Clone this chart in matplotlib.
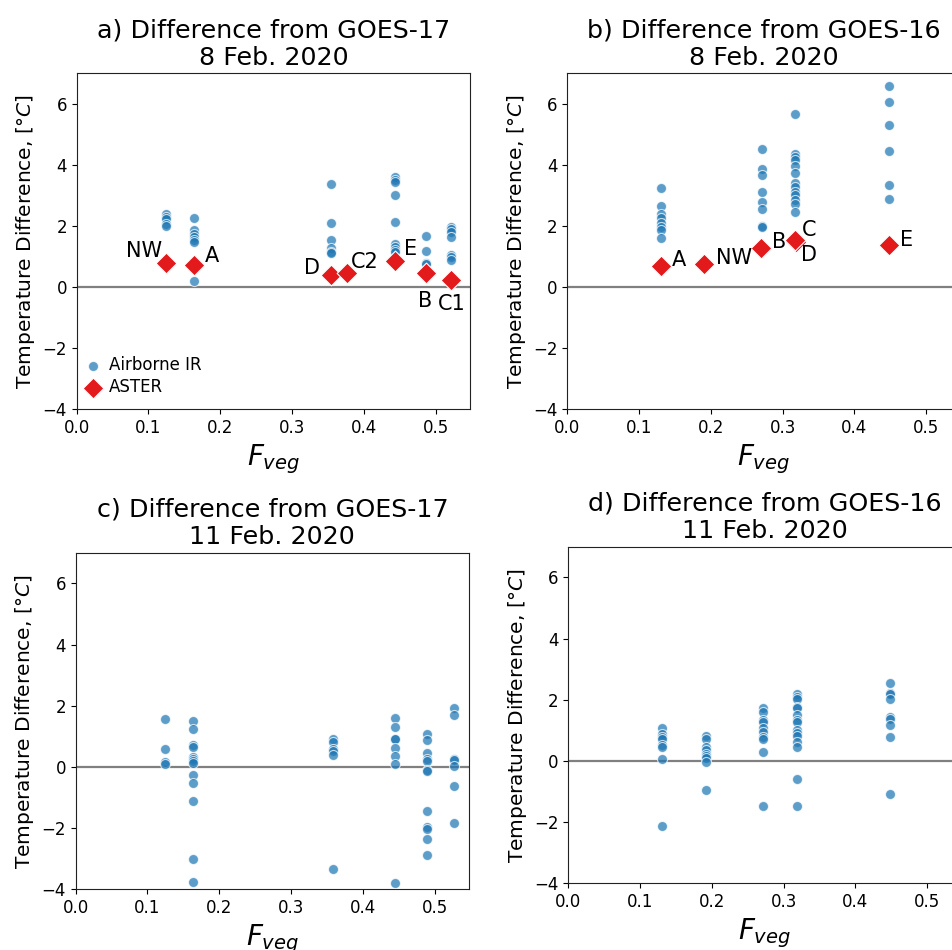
import matplotlib
matplotlib.use("Agg")
import matplotlib.pyplot as plt

# ---------------- data ----------------
# Panel a) GOES-17, 8 Feb 2020
a_ir_fveg = [0.124, 0.164, 0.354, 0.443, 0.486, 0.522]
a_ir_vals = [
    [2.38, 2.30, 2.22, 2.05, 2.00],
    [2.27, 1.85, 1.72, 1.62, 1.55, 1.48, 0.20],
    [3.36, 2.09, 1.53, 1.27, 1.15, 1.12],
    [3.60, 3.52, 3.44, 3.00, 2.14, 1.40, 1.31, 1.22, 1.15],
    [1.68, 1.17, 0.79, 0.74],
    [1.98, 1.91, 1.80, 1.64, 1.06, 0.98, 0.87],
]
a_aster_site = ["NW", "A", "D", "C2", "E", "B", "C1"]
a_aster_fveg = [0.124, 0.164, 0.354, 0.376, 0.443, 0.486, 0.522]
a_aster_vals = [0.79, 0.71, 0.40, 0.46, 0.84, 0.46, 0.22]

# Panel b) GOES-16, 8 Feb 2020
b_ir_fveg = [0.131, 0.271, 0.317, 0.448]
b_ir_vals = [
    [3.25, 2.65, 2.39, 2.25, 2.09, 1.98, 1.87, 1.60],
    [4.51, 3.88, 3.68, 3.11, 2.79, 2.54, 2.01, 1.98],
    [5.67, 4.37, 4.26, 4.15, 3.97, 3.72, 3.41, 3.26, 3.12, 3.01, 2.85, 2.72, 2.47],
    [6.58, 6.07, 5.32, 4.47, 3.33, 2.89],
]
b_aster_site = ["A", "NW", "B", "D", "C", "E"]
b_aster_fveg = [0.130, 0.191, 0.270, 0.319, 0.317, 0.448]
b_aster_vals = [0.70, 0.76, 1.29, 1.46, 1.54, 1.38]

# Panel c) GOES-17, 11 Feb 2020
c_ir_fveg = [0.125, 0.164, 0.358, 0.445, 0.490, 0.527]
c_ir_vals = [
    [1.55, 0.59, 0.16, 0.09],
    [1.49, 1.25, 0.71, 0.65, 0.33, 0.25, 0.20, 0.13, -0.27, -0.52, -1.11, -3.01, -3.76],
    [0.91, 0.82, 0.60, 0.52, 0.38, -3.34],
    [1.60, 1.29, 0.92, 0.90, 0.63, 0.35, 0.09, -3.78],
    [1.06, 0.89, 0.46, 0.25, 0.20, -0.11, -0.14, -1.44, -1.98, -2.03, -2.37, -2.89],
    [1.93, 1.69, 0.27, 0.22, 0.04, -0.64, -1.84],
]

# Panel d) GOES-16, 11 Feb 2020
d_ir_fveg = [0.131, 0.192, 0.271, 0.318, 0.448]
d_ir_vals = [
    [1.06, 0.89, 0.79, 0.70, 0.51, 0.44, 0.07, -2.14],
    [0.81, 0.73, 0.46, 0.35, 0.24, 0.15, 0.08, -0.03, -0.94],
    [1.74, 1.60, 1.33, 1.28, 1.06, 0.95, 0.79, 0.70, 0.28, -1.48],
    [2.20, 2.09, 2.01, 1.77, 1.74, 1.49, 1.35, 1.28, 1.00, 0.92, 0.81, 0.62, 0.44, -0.58, -1.47],
    [2.53, 2.22, 2.18, 2.03, 1.44, 1.38, 1.17, 0.79, -1.09],
]

titles = [
    "a) Difference from GOES-17\n8 Feb. 2020",
    "b) Difference from GOES-16\n8 Feb. 2020",
    "c) Difference from GOES-17\n11 Feb. 2020",
    "d) Difference from GOES-16\n11 Feb. 2020",
]
xticks = [0.0, 0.1, 0.2, 0.3, 0.4, 0.5]
yticks = [-4, -2, 0, 2, 4, 6]

# label offsets (pixels) and alignment for ASTER site labels
a_lab_style = {
    "NW": (-4, 6, "right"), "A": (10, 3, "left"), "D": (-11, 1, "right"),
    "C2": (4, 5, "left"), "E": (9, 6, "left"), "B": (0, -34, "center"),
    "C1": (0, -30, "center"),
}
b_lab_style = {
    "A": (11, 0, "left"), "NW": (12, 0, "left"), "B": (11, 0, "left"),
    "C": (7, 4, "left"), "D": (5, -19, "left"), "E": (11, -1, "left"),
}

IR_COLOR = "#1f77b4"
ASTER_COLOR = "#e31a1c"

fig = plt.figure(figsize=(9.52, 9.5), dpi=100)
W, H = 952.0, 950.0
# axes boxes in pixels: (left, top, right, bottom)
boxes = [
    (76.7, 73.3, 470.0, 409.0),
    (567.3, 73.3, 960.6, 409.0),
    (75.7, 552.7, 469.0, 889.3),
    (568.3, 546.7, 961.6, 883.3),
]
axes = []
for (l, t, r, b) in boxes:
    ax = fig.add_axes([l / W, 1 - b / H, (r - l) / W, (b - t) / H])
    axes.append(ax)

ir_sets = [(a_ir_fveg, a_ir_vals), (b_ir_fveg, b_ir_vals),
           (c_ir_fveg, c_ir_vals), (d_ir_fveg, d_ir_vals)]

for i, ax in enumerate(axes):
    ax.axhline(0, color="gray", lw=1.6, zorder=1)
    fv, vals = ir_sets[i]
    xs, ys = [], []
    for f, col in zip(fv, vals):
        xs += [f] * len(col)
        ys += col
    ax.scatter(xs, ys, s=52, color=IR_COLOR, alpha=0.72, edgecolor="white",
               linewidth=0.8, zorder=3, label="Airborne IR")
    ax.set_xlim(0, 0.548)
    ax.set_ylim(-4, 7)
    ax.set_xticks(xticks)
    ax.set_yticks(yticks)
    ax.tick_params(labelsize=12)
    ax.set_title(titles[i], fontsize=18.3)
    ax.set_xlabel("$F_{veg}$", fontsize=20)
    ax.set_ylabel(r"Temperature Difference, [$\degree C$]", fontsize=14.5)
    for sp in ax.spines.values():
        sp.set_color("#222222")

# ASTER on panels a and b
for ax, sites, fv, vals, style in [
    (axes[0], a_aster_site, a_aster_fveg, a_aster_vals, a_lab_style),
    (axes[1], b_aster_site, b_aster_fveg, b_aster_vals, b_lab_style),
]:
    ax.scatter(fv, vals, s=112, marker="D", color=ASTER_COLOR,
               edgecolor="white", linewidth=0.8, zorder=4, label="ASTER")
    for s, x, y in zip(sites, fv, vals):
        dx, dy, ha = style[s]
        ax.annotate(s, (x, y), xytext=(dx, dy), textcoords="offset pixels",
                    ha=ha, va="baseline", fontsize=15, zorder=5)

axes[0].legend(loc="lower left", bbox_to_anchor=(0.003, 0.018), borderaxespad=0,
               frameon=False, fontsize=12, handlelength=1.0, handletextpad=0.45,
               labelspacing=0.25, borderpad=0.4)

fig.savefig("out.png", dpi=100)
